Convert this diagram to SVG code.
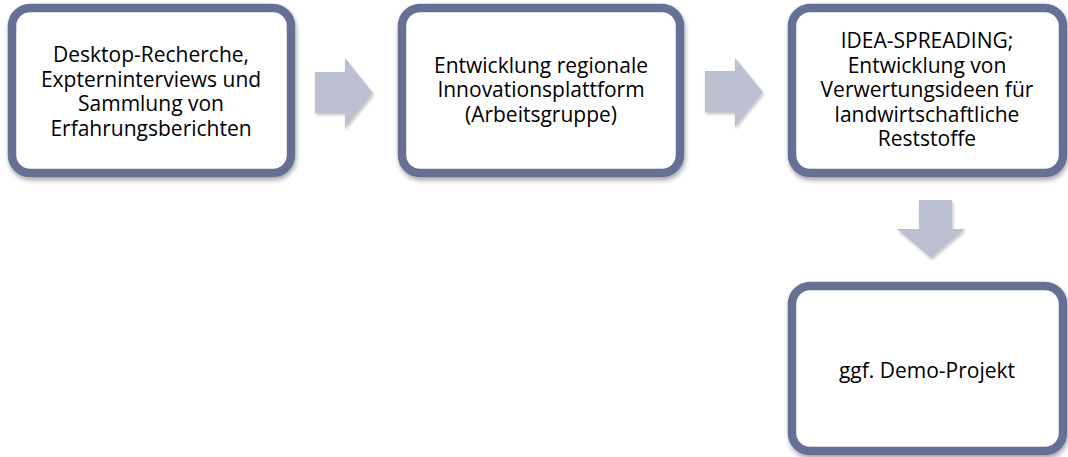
<svg xmlns="http://www.w3.org/2000/svg" width="1068" height="457" viewBox="0 0 1068 457">
<style>
.box{fill:#fff;stroke:#667094;stroke-width:8.5;filter:url(#sh)}
.arr{fill:#bcc0d1;filter:url(#sh2)}
text{font-family:"Open Sans","Liberation Sans",sans-serif;font-size:21px;fill:#000;text-anchor:middle}
</style>
<defs>
<filter id="sh" x="-10%" y="-10%" width="120%" height="125%">
<feGaussianBlur in="SourceAlpha" stdDeviation="2.5"/>
<feOffset dx="1" dy="3" result="b"/>
<feComponentTransfer><feFuncA type="linear" slope="0.35"/></feComponentTransfer>
<feMerge><feMergeNode/><feMergeNode in="SourceGraphic"/></feMerge>
</filter>
<filter id="sh2" x="-20%" y="-20%" width="140%" height="140%">
<feGaussianBlur in="SourceAlpha" stdDeviation="1.5"/>
<feOffset dx="1" dy="2"/>
<feComponentTransfer><feFuncA type="linear" slope="0.25"/></feComponentTransfer>
<feMerge><feMergeNode/><feMergeNode in="SourceGraphic"/></feMerge>
</filter>
</defs>
<g id="connectors">
<path class="arr" d="M315,72 H345 V58 L373,93 L345,128 V113 H315 Z"/>
<path class="arr" d="M705,71 H735 V58 L763,92 L735,127 V112 H705 Z"/>
<path class="arr" d="M919,200 H952 V229 H965 L931,258 L897,229 H919 Z"/>
</g>
<g id="node1">
<rect class="box" x="12" y="8" width="279" height="165" rx="18"/>
<text x="151" y="62">Desktop-Recherche,</text>
<text x="151" y="86.5">Expterninterviews und</text>
<text x="151" y="111">Sammlung von</text>
<text x="151" y="135.5">Erfahrungsberichten</text>
</g>
<g id="node2">
<rect class="box" x="402" y="8" width="278" height="165" rx="18"/>
<text x="541" y="72.5">Entwicklung regionale</text>
<text x="541" y="97">Innovationsplattform</text>
<text x="541" y="121.5">(Arbeitsgruppe)</text>
</g>
<g id="node3">
<rect class="box" x="792" y="8" width="271" height="165" rx="18"/>
<text x="927" y="48">IDEA-SPREADING;</text>
<text x="927" y="72.5">Entwicklung von</text>
<text x="927" y="97">Verwertungsideen für</text>
<text x="927" y="121.5">landwirtschaftliche</text>
<text x="927" y="146">Reststoffe</text>
</g>
<g id="node4">
<rect class="box" x="792" y="286" width="271" height="165" rx="18"/>
<text x="927" y="378">ggf. Demo-Projekt</text>
</g>
</svg>
